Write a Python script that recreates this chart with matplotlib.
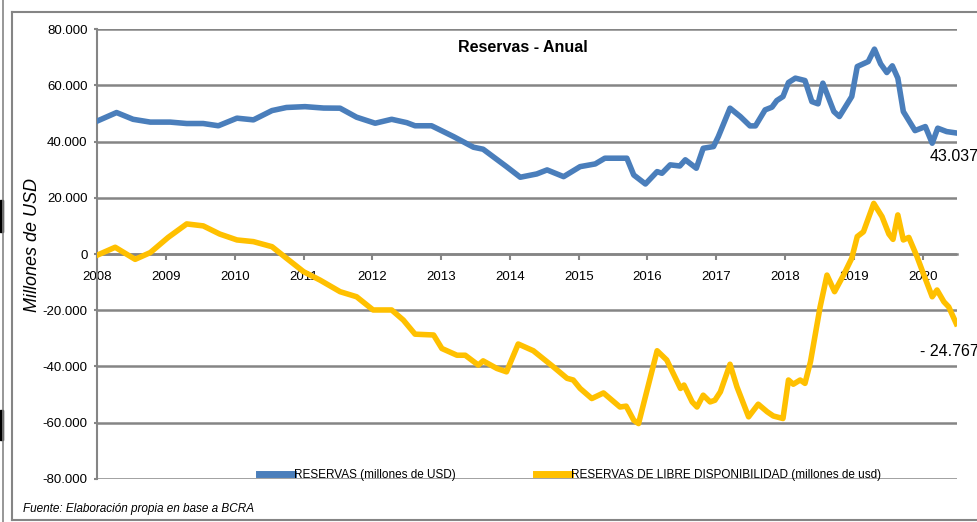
import matplotlib
matplotlib.use("Agg")
import matplotlib.pyplot as plt
from matplotlib.ticker import FuncFormatter
from matplotlib.lines import Line2D
from matplotlib.patches import Rectangle

# datos (fecha en años decimales, millones de USD)
fechas_res = [2008.01, 2008.28, 2008.52, 2008.77, 2009.06, 2009.30, 2009.54, 2009.76,
              2010.03, 2010.27, 2010.54, 2010.75, 2011.02, 2011.29, 2011.53, 2011.77,
              2012.04, 2012.28, 2012.50, 2012.62, 2012.86, 2013.18, 2013.47, 2013.61,
              2013.95, 2014.15, 2014.39, 2014.54, 2014.78, 2015.02, 2015.24, 2015.38,
              2015.70, 2015.80, 2015.97, 2016.14, 2016.21, 2016.33, 2016.47, 2016.55,
              2016.71, 2016.81, 2016.96, 2017.03, 2017.20, 2017.35, 2017.49, 2017.57,
              2017.71, 2017.81, 2017.88, 2017.97, 2018.05, 2018.15, 2018.29, 2018.39,
              2018.48, 2018.55, 2018.71, 2018.79, 2018.97, 2019.05, 2019.21, 2019.30,
              2019.39, 2019.48, 2019.56, 2019.64, 2019.72, 2019.89, 2020.04, 2020.14,
              2020.22, 2020.35, 2020.49]
reservas = [47400, 50300, 47900, 46900, 46900, 46400, 46400, 45600,
            48300, 47700, 51000, 52100, 52400, 51900, 51850, 48650,
            46500, 47900, 46700, 45600, 45600, 41750, 37970, 37260,
            31070, 27300, 28470, 29900, 27510, 31070, 32030, 34060,
            34060, 28100, 24900, 29300, 28700, 31700, 31300, 33500,
            30500, 37600, 38200, 41750, 51850, 48870, 45560, 45560,
            51250, 52210, 54560, 55990, 60970, 62530, 61680, 54200,
            53390, 60750, 50650, 48870, 55990, 66660, 68440, 72850,
            67620, 64530, 66910, 62530, 50650, 43880, 45310, 39400,
            44740, 43530, 43037]

fechas_lib = [2008.00, 2008.26, 2008.55, 2008.77, 2009.03, 2009.30, 2009.54, 2009.78,
              2010.03, 2010.27, 2010.54, 2010.75, 2011.00, 2011.24, 2011.53, 2011.77,
              2012.01, 2012.28, 2012.45, 2012.62, 2012.89, 2013.01, 2013.23, 2013.35,
              2013.54, 2013.61, 2013.81, 2013.95, 2014.12, 2014.34, 2014.63, 2014.83,
              2014.92, 2015.02, 2015.19, 2015.36, 2015.60, 2015.69, 2015.80, 2015.87,
              2016.14, 2016.28, 2016.48, 2016.53, 2016.65, 2016.72, 2016.81, 2016.91,
              2016.98, 2017.06, 2017.20, 2017.30, 2017.47, 2017.61, 2017.74, 2017.83,
              2017.97, 2018.05, 2018.12, 2018.22, 2018.29, 2018.37, 2018.51, 2018.61,
              2018.72, 2018.85, 2018.97, 2019.05, 2019.14, 2019.29, 2019.41, 2019.51,
              2019.57, 2019.64, 2019.72, 2019.80, 2019.92, 2020.01, 2020.14, 2020.21,
              2020.31, 2020.38, 2020.49]
libre = [-400, 2400, -1900, 500, 5900, 10700, 10000, 7100,
         5000, 4400, 2600, -1500, -6300, -9300, -13400, -15200,
         -19900, -19900, -23500, -28500, -28800, -33600, -36000, -36000,
         -39500, -38000, -40700, -41900, -32000, -34400, -40100, -44200,
         -44800, -47800, -51400, -49400, -54400, -54100, -59100, -60300,
         -34400, -37700, -47800, -46600, -52600, -54400, -50200, -52600,
         -52000, -49000, -39200, -47200, -57900, -53400, -56100, -57600,
         -58500, -44800, -46300, -44800, -46000, -38300, -18800, -7500,
         -13400, -7500, -1500, 6200, 7900, 18000, 13300, 7100,
         5200, 13900, 5000, 5900, -1000, -6900, -15200, -12800,
         -17000, -18800, -24767]

nombres = ["RESERVAS (millones de USD)",
           "RESERVAS DE LIBRE DISPONIBILIDAD (millones de usd)"]
anios = list(range(2008, 2021))
yticks = list(range(-80000, 80001, 20000))

fuente = ["Liberation Sans Narrow", "Liberation Sans", "DejaVu Sans"]
gris = "#858585"

fig = plt.figure(figsize=(9.78, 5.22), dpi=100)
ax = fig.add_axes([0.0995, 0.0824, 0.879, 0.862])

ax.plot(fechas_res, reservas, color="#4a7ebb", lw=4, label=nombres[0],
        solid_joinstyle="round", zorder=3)
ax.plot(fechas_lib, libre, color="#ffc000", lw=4, label=nombres[1],
        solid_joinstyle="round", zorder=3)

ax.set_xlim(2008, 2020.5)
ax.set_ylim(-80000, 80000)
ax.set_yticks(yticks)
ax.set_xticks(anios)
ax.set_xticklabels([str(a) for a in anios])
ax.yaxis.set_major_formatter(FuncFormatter(lambda v, p: f"{int(v):,}".replace(",", ".")))

for s in ["top", "right"]:
    ax.spines[s].set_visible(False)
ax.spines["left"].set_color(gris)
ax.spines["left"].set_linewidth(1.5)
ax.spines["bottom"].set_position(("data", 0))
ax.spines["bottom"].set_color(gris)
ax.spines["bottom"].set_linewidth(1.8)
ax.grid(axis="y", color=gris, lw=1.8, zorder=1)
ax.set_axisbelow(True)

ax.tick_params(axis="y", length=2, width=1.5, color=gris, pad=5, labelsize=9.5)
ax.tick_params(axis="x", length=4, width=1.5, color=gris, pad=8, labelsize=9.5)
for lab in ax.get_xticklabels() + ax.get_yticklabels():
    lab.set_family(fuente)

ax.set_ylabel("Millones de USD", fontsize=13, style="italic",
              family=["Liberation Sans", "DejaVu Sans"])
ax.yaxis.set_label_coords(-0.066, 0.52)

ax.text(0.495, 0.96, "Reservas - Anual", transform=ax.transAxes, ha="center",
        va="center", fontsize=11.5, fontweight="bold", family=fuente)

ax.annotate(f"{reservas[-1]:,}".replace(",", "."), (fechas_res[-1], reservas[-1]),
            xytext=(-27, -24), textcoords="offset pixels", ha="left", va="center",
            fontsize=11.5, family=fuente, annotation_clip=False)
ax.annotate("- " + f"{-libre[-1]:,}".replace(",", "."), (fechas_lib[-1], libre[-1]),
            xytext=(-36, -28), textcoords="offset pixels", ha="left", va="center",
            fontsize=11.5, family=fuente, annotation_clip=False)

leg = ax.legend(loc="center", bbox_to_anchor=(0.55, 0.009), ncol=2, frameon=False,
                handlelength=2.9, handletextpad=0.05, columnspacing=6.8,
                prop={"family": fuente, "size": 8.5})
for h in leg.get_lines():
    h.set_linewidth(5)

fig.text(0.024, 0.025, "Fuente: Elaboración propia en base a BCRA", fontsize=8.5,
         style="italic", family=fuente, va="center")

# marco exterior
fig.add_artist(Line2D([12 / 978, 1], [1 - 12 / 522, 1 - 12 / 522], color=gris, lw=1.5))
fig.add_artist(Line2D([12 / 978, 12 / 978], [2 / 522, 1 - 12 / 522], color=gris, lw=1.5))
fig.add_artist(Line2D([12 / 978, 1], [2 / 522, 2 / 522], color=gris, lw=1.5))
fig.add_artist(Line2D([3 / 978, 3 / 978], [0, 1], color=gris, lw=1.2))
fig.add_artist(Rectangle((0, 1 - 232 / 522), 3 / 978, 32 / 522, color="black"))
fig.add_artist(Rectangle((0, 1 - 440 / 522), 3 / 978, 30 / 522, color="black"))

fig.savefig("out.png", dpi=100)
